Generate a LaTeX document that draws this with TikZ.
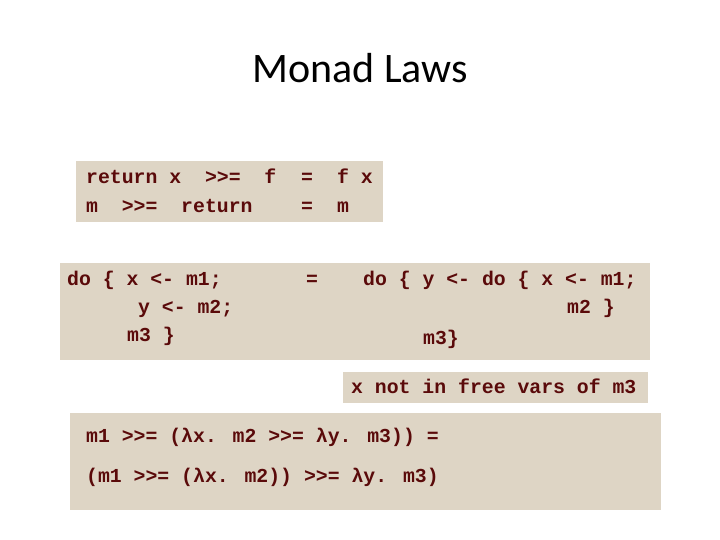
\documentclass[tikz,border=0pt]{standalone}
\usepackage{fontspec}
\setmainfont{Carlito}
\newfontfamily\codefont{Liberation Mono}
\definecolor{boxc}{HTML}{DED5C5}
\definecolor{codec}{HTML}{5A0A0A}
\begin{document}
\begin{tikzpicture}[x=1pt,y=-1pt,
  bx/.style={fill=boxc,draw=none},
  code/.style={anchor=base west,inner sep=0pt,text=codec,font=\codefont\bfseries\fontsize{19.8}{20}\selectfont}]
\useasboundingbox (0,0) rectangle (720,540);
\node[font=\fontsize{42}{42}\selectfont] (title) at (360,68) {Monad Laws};
\fill[bx] (76,161) rectangle (383,222);
\fill[bx] (60,263) rectangle (650,360);
\fill[bx] (343,372) rectangle (648,403);
\fill[bx] (70,413) rectangle (661,510);
\node[code] (a1) at (86,184) {return x\ \ >>=\ \ f};
\node[code] (a2) at (301,184) {=};
\node[code] (a3) at (337,184) {f x};
\node[code] (b1) at (86,212) {m\ \ >>=\ \ return};
\node[code] (b2) at (301,212) {=};
\node[code] (b3) at (337,212) {m};
\node[code] (c1) at (67,285) {do \{ x <- m1;};
\node[code] (c2) at (138,313) {y <- m2;};
\node[code] (c3) at (127,341) {m3 \}};
\node[code] (c4) at (306,285) {=};
\node[code] (c5) at (363,285) {do \{ y <- do \{ x <- m1;};
\node[code] (c6) at (567,313) {m2 \}};
\node[code] (c7) at (423,344) {m3\}};
\node[code] (d1) at (351,393) {x not in free vars of m3};
\node[code] (e1) at (86,442) {m1 >>= (λx. m2 >>= λy. m3)) =};
\node[code] (e2) at (86,482) {(m1 >>= (λx. m2)) >>= λy. m3)};
\end{tikzpicture}
\end{document}
